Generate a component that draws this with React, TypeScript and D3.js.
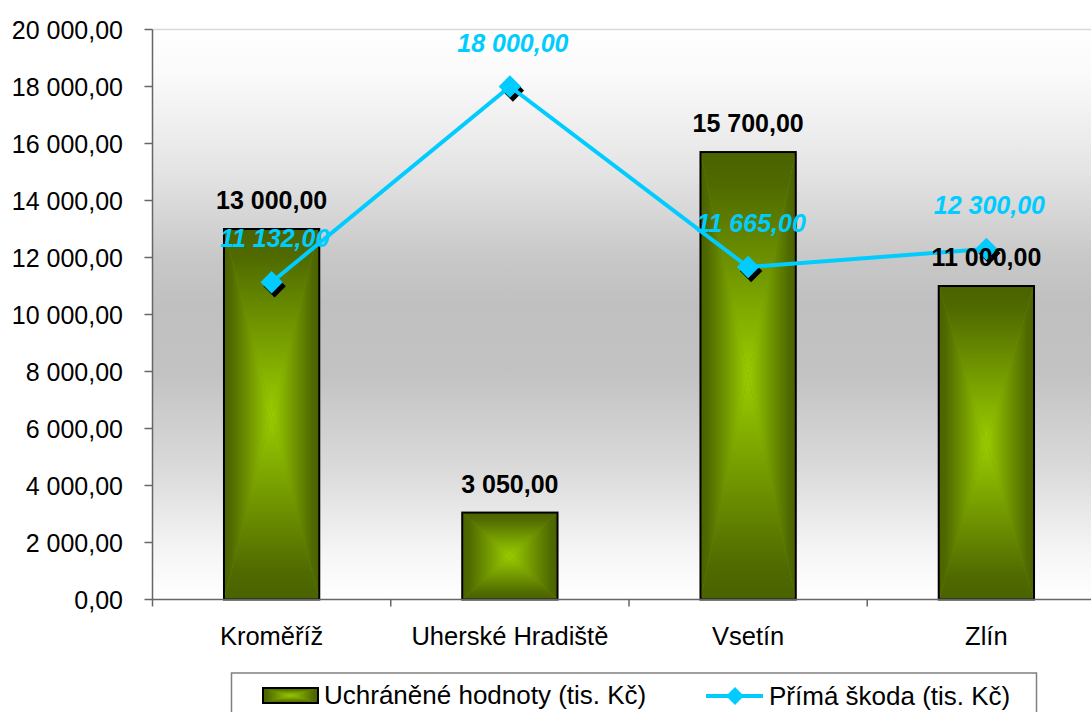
import React from "react";
import * as d3 from "d3";

const categories = ["Kroměříž", "Uherské Hradiště", "Vsetín", "Zlín"];
const protectedValues = [13000, 3050, 15700, 11000];
const damageValues = [11132, 18000, 11665, 12300];
const yTickValues = [0, 2000, 4000, 6000, 8000, 10000, 12000, 14000, 16000, 18000, 20000];
const seriesNames = ["Uchráněné hodnoty (tis. Kč)", "Přímá škoda (tis. Kč)"];

const W = 1091;
const H = 712;
const FONT = "'Liberation Sans', Arial, sans-serif";
const DARK = "#4a6200";
const BRIGHT = "#99cc00";
const CYAN = "#00ccff";

const locale = d3.formatLocale({ decimal: ",", thousands: " ", grouping: [3], currency: ["", ""] });
const fmt = locale.format(",.2f");

function PyramidRect({ id, x0, y0, x1, y1 }: { id: string; x0: number; y0: number; x1: number; y1: number }) {
  const cx = (x0 + x1) / 2;
  const cy = (y0 + y1) / 2;
  const parts = [
    { k: "t", pts: [[x0, y0], [x1, y0], [cx, cy]], g: [cx, y0, cx, cy] },
    { k: "b", pts: [[x0, y1], [x1, y1], [cx, cy]], g: [cx, y1, cx, cy] },
    { k: "l", pts: [[x0, y0], [x0, y1], [cx, cy]], g: [x0, cy, cx, cy] },
    { k: "r", pts: [[x1, y0], [x1, y1], [cx, cy]], g: [x1, cy, cx, cy] },
  ];
  return (
    <g>
      <defs>
        {parts.map((p) => (
          <linearGradient key={p.k} id={`${id}-${p.k}`} gradientUnits="userSpaceOnUse" x1={p.g[0]} y1={p.g[1]} x2={p.g[2]} y2={p.g[3]}>
            <stop offset="0" stopColor={DARK} />
            <stop offset="0.15" stopColor="#506a00" />
            <stop offset="1" stopColor={BRIGHT} />
          </linearGradient>
        ))}
      </defs>
      <rect x={x0} y={y0} width={x1 - x0} height={y1 - y0} fill="#6f9400" />
      {parts.map((p) => (
        <polygon key={p.k} points={p.pts.map((q) => q.join(",")).join(" ")} fill={`url(#${id}-${p.k})`} />
      ))}
      <rect x={x0} y={y0} width={x1 - x0} height={y1 - y0} fill="none" stroke="#000" strokeWidth={2} />
    </g>
  );
}

export default function App() {
  const plotLeft = 152.5;
  const plotRight = 1105.5;
  const plotTop = 29.5;
  const plotBottom = 599.5;

  const x = d3.scaleBand<string>().domain(categories).range([plotLeft, plotRight]).paddingInner(0.6).paddingOuter(0.3);
  const y = d3.scaleLinear().domain([0, 20000]).range([plotBottom, plotTop]);
  const step = x.step();
  const bw = x.bandwidth();
  const center = (c: string) => (x(c) as number) + bw / 2;

  const linePath = d3
    .line<number>()
    .x((_, i) => center(categories[i]))
    .y((v) => y(v))(damageValues) as string;

  const diamond = d3.symbol().type(d3.symbolSquare).size(250)() as string;
  const boundaries = d3.range(categories.length + 1).map((i) => plotLeft + i * step);

  return (
    <svg width={W} height={H} style={{ position: "absolute", left: 0, top: 0, background: "#fff" }} fontFamily={FONT}>
      <defs>
        <linearGradient id="bg" x1="0" y1="0" x2="0" y2="1">
          <stop offset="0" stopColor="#ffffff" />
          <stop offset="0.08" stopColor="#fafafa" />
          <stop offset="0.25" stopColor="#e4e4e4" />
          <stop offset="0.40" stopColor="#c8c8c8" />
          <stop offset="0.48" stopColor="#c0c0c0" />
          <stop offset="0.60" stopColor="#c2c2c2" />
          <stop offset="0.77" stopColor="#dadada" />
          <stop offset="0.92" stopColor="#f6f6f6" />
          <stop offset="1" stopColor="#ffffff" />
        </linearGradient>
      </defs>
      <rect x={plotLeft} y={plotTop} width={plotRight - plotLeft} height={plotBottom - plotTop} fill="url(#bg)" />
      <line x1={plotLeft} x2={plotRight} y1={plotTop} y2={plotTop} stroke="#d9d9d9" strokeWidth={1.5} />

      {/* y axis */}
      <line x1={plotLeft} x2={plotLeft} y1={plotTop} y2={plotBottom} stroke="#666" strokeWidth={1.5} />
      {yTickValues.map((t) => (
        <g key={t}>
          <line x1={plotLeft - 8} x2={plotLeft} y1={y(t)} y2={y(t)} stroke="#666" strokeWidth={1.5} />
          <text x={123} y={y(t)} dy="0.36em" textAnchor="end" fontSize={25} fill="#000">
            {fmt(t)}
          </text>
        </g>
      ))}

      {/* bars */}
      {categories.map((c, i) => (
        <PyramidRect key={c} id={`bar${i}`} x0={x(c) as number} y0={y(protectedValues[i])} x1={(x(c) as number) + bw} y1={y(0)} />
      ))}

      {/* x axis */}
      <line x1={plotLeft} x2={plotRight} y1={plotBottom} y2={plotBottom} stroke="#666" strokeWidth={1.5} />
      {boundaries.map((b, i) => (
        <line key={i} x1={b} x2={b} y1={plotBottom} y2={plotBottom + 7} stroke="#666" strokeWidth={1.5} />
      ))}
      {categories.map((c) => (
        <text key={c} x={center(c)} y={645} textAnchor="middle" fontSize={25.5} fill="#000">
          {c}
        </text>
      ))}

      {/* line series */}
      {damageValues.map((v, i) => (
        <path key={i} d={diamond} transform={`translate(${center(categories[i]) + 3},${y(v) + 4}) rotate(45)`} fill="#000" />
      ))}
      <path d={linePath} fill="none" stroke={CYAN} strokeWidth={4} />
      {damageValues.map((v, i) => (
        <path key={i} d={diamond} transform={`translate(${center(categories[i])},${y(v)}) rotate(45)`} fill={CYAN} />
      ))}

      {/* labels */}
      {categories.map((c, i) => (
        <text key={c} x={center(c)} y={y(protectedValues[i]) - 20} textAnchor="middle" fontSize={25} fontWeight="bold" fill="#000">
          {fmt(protectedValues[i])}
        </text>
      ))}
      {damageValues.map((v, i) => (
        <text key={i} x={center(categories[i]) + 3} y={y(v) - 35} textAnchor="middle" fontSize={25} fontWeight="bold" fontStyle="italic" fill={CYAN}>
          {fmt(v)}
        </text>
      ))}

      {/* legend */}
      <rect x={231.5} y={673} width={805} height={60} fill="#fff" stroke="#808080" strokeWidth={1.5} />
      <PyramidRect id="leg" x0={263} y0={688} x1={318} y1={703} />
      <text x={324} y={704} fontSize={26} fill="#000">
        {seriesNames[0]}
      </text>
      <line x1={706} x2={763} y1={696} y2={696} stroke={CYAN} strokeWidth={4} />
      <path d={d3.symbol().type(d3.symbolSquare).size(160)() as string} transform={`translate(735,696) rotate(45)`} fill={CYAN} />
      <text x={769} y={705} fontSize={26} fill="#000">
        {seriesNames[1]}
      </text>
    </svg>
  );
}
